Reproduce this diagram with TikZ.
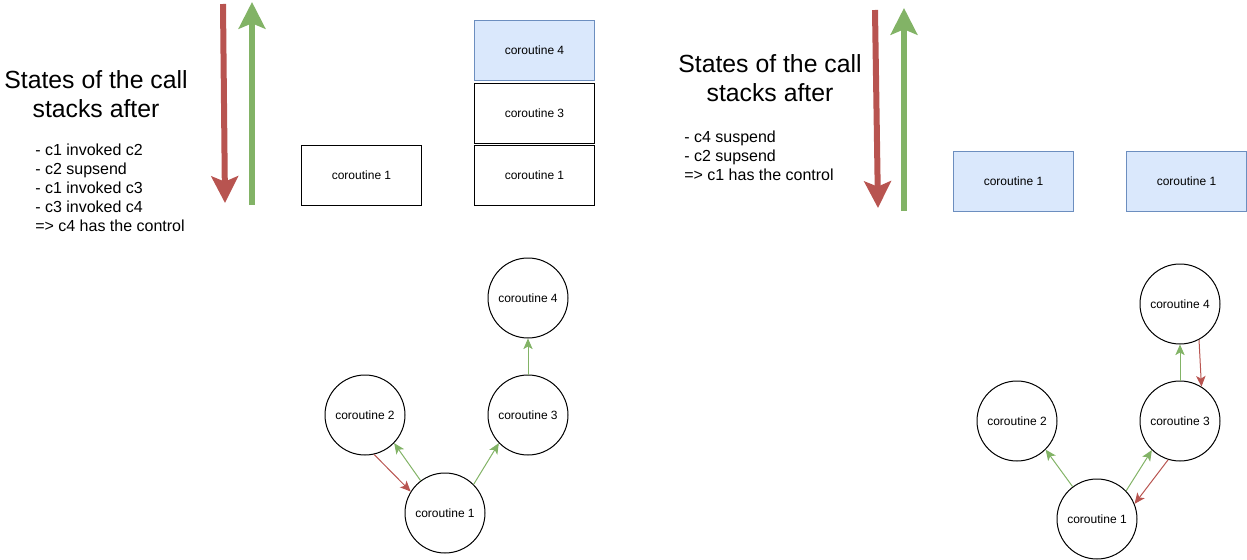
\documentclass[tikz,border=0pt]{standalone}
\usepackage{fontspec}
\setmainfont{Liberation Sans}
\usetikzlibrary{arrows.meta}
\definecolor{dred}{HTML}{B85450}
\definecolor{dgreen}{HTML}{82B366}
\definecolor{bfill}{HTML}{DAE8FC}
\definecolor{bline}{HTML}{6C8EBF}
\tikzset{
  box/.style={draw=black, line width=0.75pt, minimum width=90pt, minimum height=45pt, inner sep=0pt, font=\fontsize{9}{11}\selectfont},
  bluebox/.style={box, draw=bline, fill=bfill},
  circ/.style={draw=black, line width=0.75pt, circle, minimum size=60pt, inner sep=0pt, font=\fontsize{9}{11}\selectfont},
  bigred/.style={draw=dred, line width=4.5pt, -{Stealth[length=20pt,width=20pt,inset=4pt]}},
  biggreen/.style={draw=dgreen, line width=4.5pt, -{Stealth[length=20pt,width=20pt,inset=4pt]}},
  gedge/.style={draw=dgreen, line width=0.75pt, -{Stealth[length=8pt,width=7pt,inset=2pt]}},
  redge/.style={draw=dred, line width=0.75pt, -{Stealth[length=8pt,width=7pt,inset=2pt]}},
  title/.style={align=center, font=\fontsize{18.6}{21.9}\selectfont},
  listtxt/.style={align=left, anchor=north west, inner sep=0pt, font=\fontsize{12}{14.25}\selectfont},
}
\begin{document}
\begin{tikzpicture}[x=0.75pt, y=-0.75pt]
\useasboundingbox (0,0) rectangle (1247,560);
% ---------- left part ----------
\node[title] (t1) at (96,94) {States of the call\\stacks after};
\node[listtxt] (l1) at (35,144) {- c1 invoked c2\\- c2 supsend\\- c1 invoked c3\\- c3 invoked c4\\=> c4 has the control};
\coordinate (r1s) at (223,4);
\coordinate (r1e) at (225,203);
\coordinate (g1s) at (252,205);
\coordinate (g1e) at (252,2);
\draw[bigred] (r1s) -- (r1e);
\draw[biggreen] (g1s) -- (g1e);
\node[box] (a1) at (361.5,175.5) {coroutine 1};
\node[bluebox] (b4) at (534.5,50.5) {coroutine 4};
\node[box] (b3) at (534.5,113.5) {coroutine 3};
\node[box] (b1) at (534.5,175.5) {coroutine 1};
\node[circ] (lc4) at (528,298) {coroutine 4};
\node[circ] (lc2) at (365,415) {coroutine 2};
\node[circ] (lc3) at (528,415) {coroutine 3};
\node[circ] (lc1) at (445,513) {coroutine 1};
\draw[gedge] (lc3.north) -- (lc4.south);
\draw[gedge] (lc1.127) -- (lc2.-44);
\draw[redge] (lc2.-77) -- (lc1.148);
\draw[gedge] (lc1.45) -- (lc3.-136);
% ---------- right part ----------
\node[title] (t2) at (770,78) {States of the call\\stacks after};
\node[listtxt] (l2) at (684,131) {- c4 suspend\\- c2 supsend\\=> c1 has the control};
\coordinate (r2s) at (875,10);
\coordinate (r2e) at (878,208);
\coordinate (g2s) at (904,211);
\coordinate (g2e) at (904,8);
\draw[bigred] (r2s) -- (r2e);
\draw[biggreen] (g2s) -- (g2e);
\node[bluebox] (c1a) at (1013.5,181.5) {coroutine 1};
\node[bluebox] (c1b) at (1186.5,181.5) {coroutine 1};
\node[circ] (rc4) at (1180,304) {coroutine 4};
\node[circ] (rc2) at (1017,421) {coroutine 2};
\node[circ] (rc3) at (1180,421) {coroutine 3};
\node[circ] (rc1) at (1097,519) {coroutine 1};
\draw[gedge] (rc3.north) -- (rc4.south);
\draw[redge] (rc4.-62) -- (rc3.58);
\draw[gedge] (rc1.127) -- (rc2.-45);
\draw[gedge] (rc1.44) -- (rc3.-134);
\draw[redge] (rc3.-107) -- (rc1.22);
\end{tikzpicture}
\end{document}
